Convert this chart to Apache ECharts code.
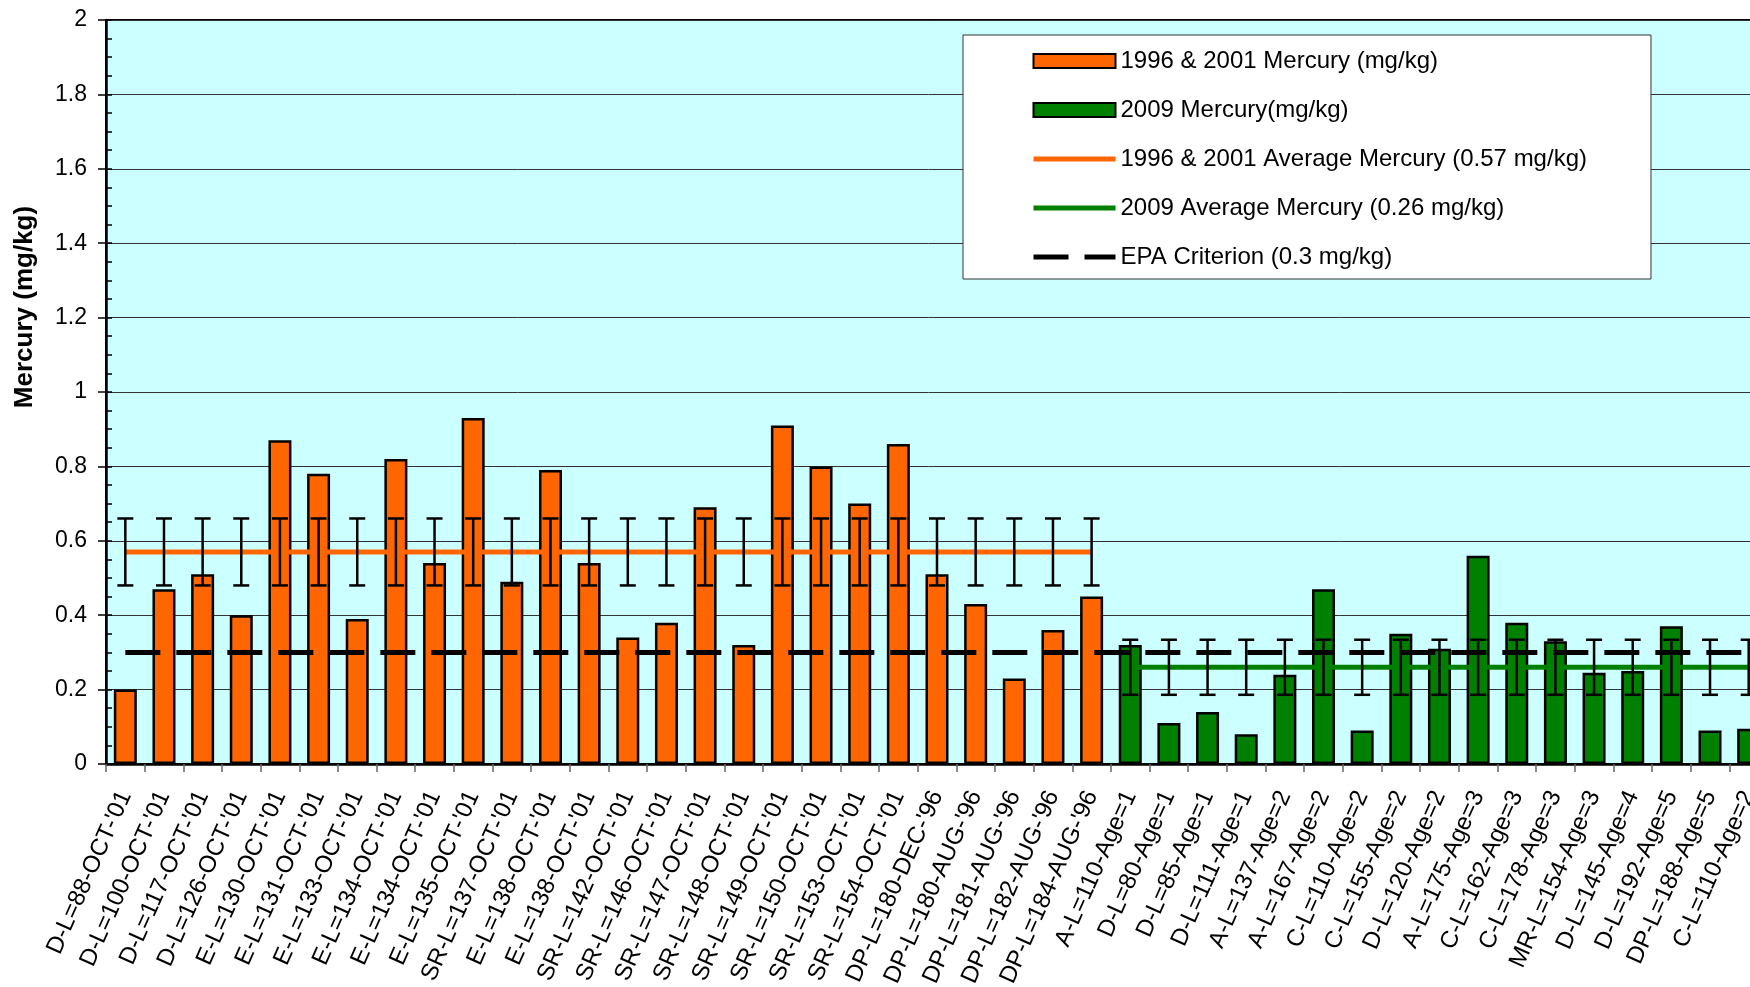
<!DOCTYPE html>
<html>
<head>
<meta charset="utf-8">
<title>Mercury</title>
<script src="https://cdn.jsdelivr.net/npm/echarts@6/dist/echarts.min.js"></script>
<style>
  html, body { margin: 0; padding: 0; background: #fff; }
  #chart { width: 1750px; height: 987px; }
</style>
</head>
<body>
<div id="chart"></div>
<script>
// categories, 26 from 1996 & 2001 then 17 from 2009
const categories = [
  "D-L=88-OCT-'01", "D-L=100-OCT-'01", "D-L=117-OCT-'01", "D-L=126-OCT-'01",
  "E-L=130-OCT-'01", "E-L=131-OCT-'01", "E-L=133-OCT-'01", "E-L=134-OCT-'01",
  "E-L=134-OCT-'01", "E-L=135-OCT-'01", "SR-L=137-OCT-'01", "E-L=138-OCT-'01",
  "E-L=138-OCT-'01", "SR-L=142-OCT-'01", "SR-L=146-OCT-'01", "SR-L=147-OCT-'01",
  "SR-L=148-OCT-'01", "SR-L=149-OCT-'01", "SR-L=150-OCT-'01", "SR-L=153-OCT-'01",
  "SR-L=154-OCT-'01", "DP-L=180-DEC-'96", "DP-L=180-AUG-'96", "DP-L=181-AUG-'96",
  "DP-L=182-AUG-'96", "DP-L=184-AUG-'96",
  "A-L=110-Age=1", "D-L=80-Age=1", "D-L=85-Age=1", "D-L=111-Age=1",
  "A-L=137-Age=2", "A-L=167-Age=2", "C-L=110-Age=2", "C-L=155-Age=2",
  "D-L=120-Age=2", "A-L=175-Age=3", "C-L=162-Age=3", "C-L=178-Age=3",
  "MR-L=154-Age=3", "D-L=145-Age=4", "D-L=192-Age=5", "DP-L=188-Age=5",
  "C-L=110-Age=2"
]

const mercury9601 = [
  0.20, 0.47, 0.51, 0.40, 0.87, 0.78, 0.39, 0.82, 0.54, 0.93, 0.49, 0.79, 0.54,
  0.34, 0.38, 0.69, 0.32, 0.91, 0.80, 0.70, 0.86, 0.51, 0.43, 0.23, 0.36, 0.45
]
const mercury2009 = [
  0.32, 0.11, 0.14, 0.08, 0.24, 0.47, 0.09, 0.35, 0.31, 0.56, 0.38, 0.33,
  0.245, 0.25, 0.37, 0.09, 0.095
]

const avg9601 = 0.57
const avg2009 = 0.26
const epaCriterion = 0.3
const err9601 = [0.48, 0.66]
const err2009 = [0.186, 0.334]

const names = [
  '1996 & 2001 Mercury (mg/kg)',
  '2009 Mercury(mg/kg)',
  '1996 & 2001 Average Mercury (0.57 mg/kg)',
  '2009 Average Mercury (0.26 mg/kg)',
  'EPA Criterion (0.3 mg/kg)'
]

const FONT = 'Liberation Sans, Arial, sans-serif'
const nOld = mercury9601.length
const nAll = categories.length

const oldBars = mercury9601.map((v, i) => [i, v])
const newBars = mercury2009.map((v, i) => [i + nOld, v])
const errData = mercury9601.map((v, i) => [i, err9601[0], err9601[1]])
  .concat(mercury2009.map((v, i) => [i + nOld, err2009[0], err2009[1]]))

function renderErr(params, api) {
  const x = api.value(0)
  const lo = api.coord([x, api.value(1)])
  const hi = api.coord([x, api.value(2)])
  const w = 8
  const st = { stroke: '#000', lineWidth: 2.5 }
  return {
    type: 'group',
    children: [
      { type: 'line', shape: { x1: lo[0], y1: lo[1], x2: hi[0], y2: hi[1] }, style: st },
      { type: 'line', shape: { x1: lo[0] - w, y1: lo[1], x2: lo[0] + w, y2: lo[1] }, style: st },
      { type: 'line', shape: { x1: hi[0] - w, y1: hi[1], x2: hi[0] + w, y2: hi[1] }, style: st }
    ]
  }
}

const noSymbol = { color: 'rgba(0,0,0,0)', borderWidth: 0 }

const myChart = echarts.init(document.getElementById('chart'))
const option = {
  animation: false,
  textStyle: { fontFamily: FONT, color: '#000' },
  grid: {
    left: 106, width: 1662, top: 20, height: 744,
    outerBoundsMode: 'none', containLabel: false,
    show: true, backgroundColor: '#CCFFFF', borderColor: '#000', borderWidth: 2
  },
  legend: {
    data: [
      { name: names[0], icon: 'rect' },
      { name: names[1], icon: 'rect' },
      { name: names[2], itemStyle: noSymbol, lineStyle: { color: '#FF6600', width: 5 } },
      { name: names[3], itemStyle: noSymbol, lineStyle: { color: '#008000', width: 5 } },
      { name: names[4], itemStyle: noSymbol, lineStyle: { color: '#000', width: 5, type: [35, 16] } }
    ],
    orient: 'vertical',
    left: 963, top: 35,
    backgroundColor: '#fff',
    borderColor: '#333', borderWidth: 1,
    padding: [14, 64, 10, 68],
    itemWidth: 82, itemHeight: 14, itemGap: 25,
    textStyle: { fontSize: 24, color: '#000', fontFamily: FONT }
  },
  xAxis: {
    type: 'category',
    data: categories,
    boundaryGap: true,
    axisLine: { lineStyle: { color: '#000', width: 2.5 } },
    axisTick: { show: true, length: 8, lineStyle: { color: '#666', width: 1.5 } },
    axisLabel: { interval: 0, rotate: 66, margin: 28, fontSize: 24, color: '#000', fontFamily: FONT },
    splitLine: { show: false }
  },
  yAxis: [{
    type: 'value', min: 0, max: 2, interval: 0.2,
    axisLine: { show: true, lineStyle: { color: '#000', width: 2.5 } },
    axisTick: { show: true, length: 8, lineStyle: { color: '#000', width: 1.5 } },
    axisLabel: { fontSize: 23, color: '#000', margin: 19, fontFamily: FONT },
    splitLine: { show: true, lineStyle: { color: '#333', width: 1 } }
  }, {
    // inside minor ticks
    type: 'value', min: 0, max: 2, interval: 0.05, position: 'left',
    axisLine: { show: false },
    axisTick: { show: true, inside: true, length: 6, lineStyle: { color: '#000', width: 1.5 } },
    axisLabel: { show: false },
    splitLine: { show: false }
  }],
  graphic: [{
    type: 'text', x: 25, y: 307, rotation: Math.PI / 2,
    style: {
      text: 'Mercury (mg/kg)', font: 'bold 26px ' + FONT,
      fill: '#000', textAlign: 'center', textVerticalAlign: 'middle', verticalAlign: 'middle'
    }
  }],
  series: [
    {
      name: names[0], type: 'bar', data: oldBars, barWidth: 23, barGap: '-100%', z: 2,
      itemStyle: { color: '#FF6600', borderColor: '#000', borderWidth: 2.5 }
    },
    {
      name: names[1], type: 'bar', data: newBars, barWidth: 23, barGap: '-100%', z: 2,
      itemStyle: { color: '#008000', borderColor: '#000', borderWidth: 2.5 }
    },
    {
      name: names[2], type: 'line', symbol: 'none', z: 3,
      data: [[0, avg9601], [nOld - 1, avg9601]],
      lineStyle: { color: '#FF6600', width: 5 }, itemStyle: { color: '#FF6600' }
    },
    {
      name: names[3], type: 'line', symbol: 'none', z: 3,
      data: [[nOld, avg2009], [nAll - 1, avg2009]],
      lineStyle: { color: '#008000', width: 5 }, itemStyle: { color: '#008000' }
    },
    {
      name: 'errors', type: 'custom', renderItem: renderErr, data: errData, z: 4,
      encode: { x: 0, y: [1, 2] }
    },
    {
      name: names[4], type: 'line', symbol: 'none', z: 5,
      data: [[0, epaCriterion], [nAll - 1, epaCriterion]],
      lineStyle: { color: '#000', width: 5, type: [35, 16] }, itemStyle: { color: '#000' }
    }
  ]
}
myChart.setOption(option)
</script>
</body>
</html>
